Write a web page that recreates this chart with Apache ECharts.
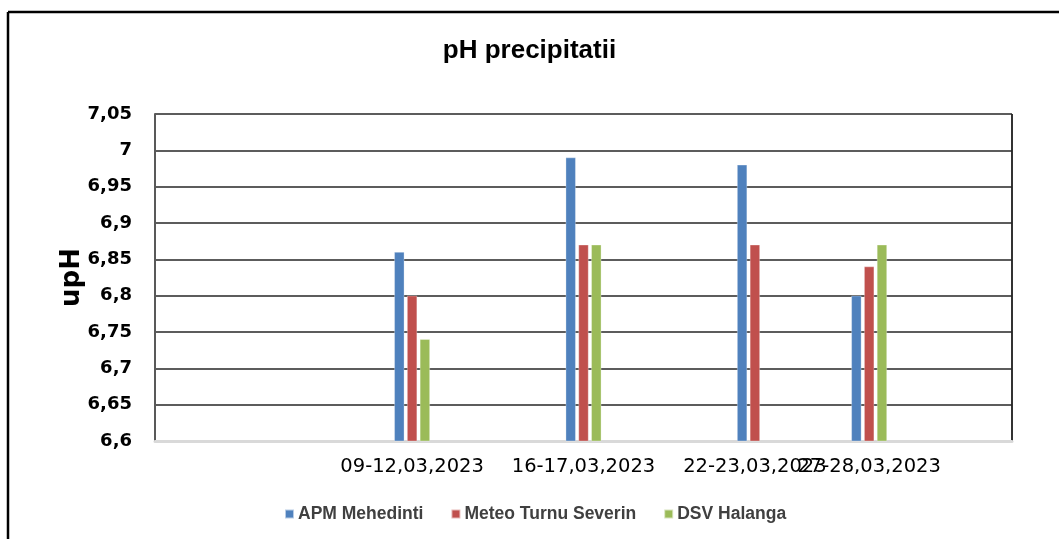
<!DOCTYPE html>
<html>
<head>
<meta charset="utf-8">
<script src="https://cdn.jsdelivr.net/npm/echarts@6/dist/echarts.min.js"></script>
<style>html,body{margin:0;padding:0;background:#fff;}#c{width:1059px;height:539px;}</style>
</head>
<body>
<div id="c"></div>
<script>
// Category slots (blank slots reproduce the uneven spacing of the original axis)
var categories = ['', '', '', '', '09-12,03,2023', '', '', '16-17,03,2023', '', '', '22-23,03,2023', '', '27-28,03,2023', '', ''];
var apmMehedinti =  [null, null, null, null, 6.86, null, null, 6.99, null, null, 6.98, null, 6.80, null, null];
var meteoTurnu =    [null, null, null, null, 6.80, null, null, 6.87, null, null, 6.87, null, 6.84, null, null];
var dsvHalanga =    [null, null, null, null, 6.74, null, null, 6.87, null, null, null, null, 6.87, null, null];
var seriesNames = ['APM Mehedinti', 'Meteo Turnu Severin', 'DSV Halanga'];
var colors = ['#4f81bd', '#c0504d', '#9bbb59'];

var chart = echarts.init(document.getElementById('c'), null, {renderer: 'canvas'});
function mk(name, data, color) {
  return {
    name: name, type: 'bar', data: data, barWidth: 10, barGap: '28%',
    itemStyle: {color: color, borderColor: 'rgba(255,255,255,0.6)', borderWidth: 0.5},
    silent: true
  };
}
chart.setOption({
  animation: false,
  backgroundColor: '#fff',
  title: {
    text: 'pH precipitatii', left: 'center', top: 33,
    textStyle: {fontFamily: 'Liberation Sans', fontWeight: 'bold', fontSize: 26, color: '#000'}
  },
  legend: {
    data: seriesNames, top: 500, left: 279, itemWidth: 9, itemHeight: 9, itemGap: 27,
    icon: 'rect',
    textStyle: {fontFamily: 'Liberation Sans', fontWeight: 'bold', fontSize: 17.5, color: '#404040', padding: [0, 0, 0, -1]}
  },
  grid: {left: 155, right: 47, top: 114, bottom: 98, show: true, borderColor: '#333', borderWidth: 0},
  xAxis: {
    type: 'category', data: categories,
    axisLine: {show: true, lineStyle: {color: '#d9d9d9', width: 3}},
    axisTick: {show: false},
    axisLabel: {interval: 0, margin: 16, fontFamily: 'DejaVu Sans', fontSize: 19.5, color: '#000'}
  },
  yAxis: {
    type: 'value', min: 6.6, max: 7.05, interval: 0.05,
    name: 'upH', nameLocation: 'middle', nameGap: 70, nameRotate: 90, nameMoveOverlap: false,
    nameTextStyle: {fontFamily: 'DejaVu Sans', fontWeight: 'bold', fontSize: 26, color: '#000'},
    axisLine: {show: true, lineStyle: {color: '#595959', width: 2}},
    axisTick: {show: false},
    splitLine: {lineStyle: {color: '#262626', width: 1.5}},
    axisLabel: {
      margin: 23, fontFamily: 'DejaVu Sans', fontWeight: 'bold', fontSize: 18, color: '#000',
      formatter: function (v) { return (Math.round(v * 100) / 100).toString().replace('.', ','); }
    }
  },
  graphic: [
    {type: 'line', shape: {x1: 8, y1: 12, x2: 8, y2: 539}, style: {stroke: '#000', lineWidth: 2.5}},
    {type: 'line', shape: {x1: 8, y1: 12, x2: 1059, y2: 12}, style: {stroke: '#000', lineWidth: 2.5}},
    {type: 'line', shape: {x1: 1012, y1: 114, x2: 1012, y2: 441}, style: {stroke: '#333', lineWidth: 2}}
  ],
  series: [
    mk(seriesNames[0], apmMehedinti, colors[0]),
    mk(seriesNames[1], meteoTurnu, colors[1]),
    mk(seriesNames[2], dsvHalanga, colors[2])
  ]
});
</script>
</body>
</html>
